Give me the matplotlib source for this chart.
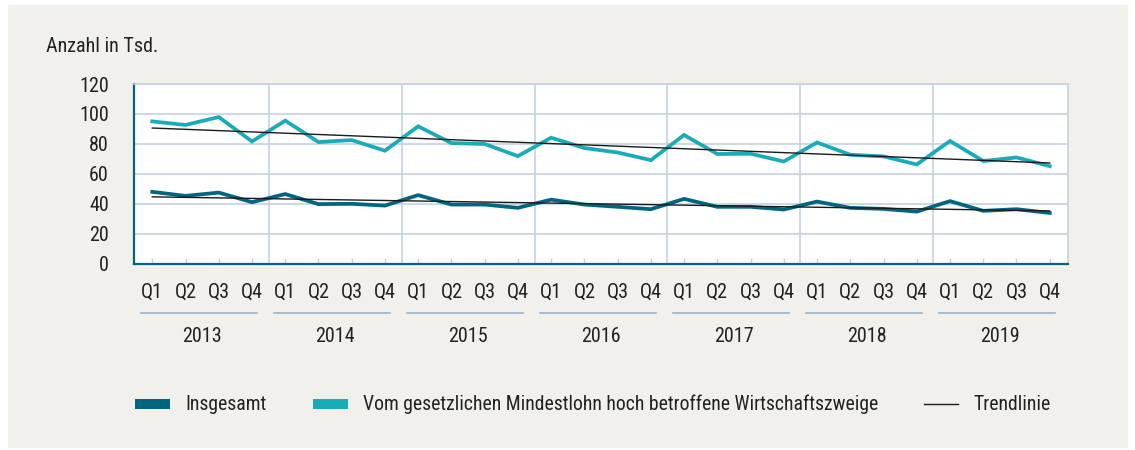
import numpy as np
import matplotlib
matplotlib.use("Agg")
import matplotlib.pyplot as plt
from matplotlib.patches import Rectangle
from matplotlib.lines import Line2D

plt.rcParams['font.family'] = ['Roboto Condensed', 'Liberation Sans Narrow', 'DejaVu Sans']
plt.rcParams['font.stretch'] = 'condensed'

years = ['2013', '2014', '2015', '2016', '2017', '2018', '2019']
quarters = ['Q1', 'Q2', 'Q3', 'Q4']

# Anzahl in Tsd., je Quartal 2013-2019
insgesamt = [47.9, 45.2, 47.4, 41.0,
             46.4, 39.7, 39.9, 38.7,
             45.7, 39.4, 39.4, 37.2,
             42.7, 39.4, 37.9, 36.3,
             43.2, 37.9, 37.9, 36.1,
             41.4, 37.2, 36.5, 34.7,
             41.7, 35.2, 36.3, 33.8]
mindestlohn = [95.0, 92.6, 97.9, 81.6,
               95.5, 81.2, 82.5, 75.4,
               91.7, 80.5, 79.9, 71.8,
               84.1, 77.2, 74.2, 69.1,
               85.9, 73.2, 73.4, 68.2,
               80.9, 72.7, 71.6, 66.2,
               81.9, 68.5, 70.9, 65.1]

dark = '#00667f'
light = '#1aabb9'
grid_col = '#c3d2df'
bg = '#f1f0ea'
txt = '#222222'
fs = 14.5
fs_leg = 14.2

x = np.arange(len(insgesamt))

fig = plt.figure(figsize=(11.35, 4.5), dpi=100)
fig.patch.set_facecolor('white')
fig.patches.append(Rectangle((8 / 1135, 2 / 450), 1120 / 1135, 443 / 450,
                             transform=fig.transFigure, facecolor=bg,
                             edgecolor='none', zorder=-10))

ax = fig.add_axes([134 / 1135, 186.5 / 450, 934 / 1135, 179.5 / 450])
ax.set_facecolor('white')

ax.plot(x, mindestlohn, color=light, lw=2.7, zorder=3, solid_joinstyle='miter')
ax.plot(x, insgesamt, color=dark, lw=2.7, zorder=3, solid_joinstyle='miter')

# lineare Trendlinien
for series in (mindestlohn, insgesamt):
    k, d = np.polyfit(x, series, 1)
    ax.plot(x, k * x + d, color='#1a1a1a', lw=1.0, zorder=4)

ax.set_xlim(-0.55, len(x) - 0.45)
ax.set_ylim(0, 120)
ax.set_yticks(range(0, 121, 20))
ax.yaxis.grid(True, color=grid_col, lw=1.2, zorder=1)
for i in range(1, len(years)):
    ax.axvline(4 * i - 0.5, color=grid_col, lw=1.2, zorder=1)

ax.set_xticks(x)
ax.set_xticklabels([])
ax.tick_params(axis='x', direction='in', length=4, color=grid_col, width=1)
ax.tick_params(axis='y', length=0, pad=18, labelsize=fs, labelcolor=txt)

for side in ('top', 'right'):
    ax.spines[side].set_color(grid_col)
    ax.spines[side].set_linewidth(1.2)
for side in ('left', 'bottom'):
    ax.spines[side].set_color(dark)
    ax.spines[side].set_linewidth(1.6)

# Quartals- und Jahresbeschriftung unter der Achse
h = 179.5
for yi, year in enumerate(years):
    for qi, q in enumerate(quarters):
        ax.text(4 * yi + qi, -28.5 / h, q, ha='center', va='center',
                fontsize=fs, color=txt, transform=ax.get_xaxis_transform())
    ax.add_line(Line2D([4 * yi - 0.33, 4 * yi + 3.15], [-49.5 / h, -49.5 / h],
                       color='#9db3c6', lw=1.2, clip_on=False,
                       transform=ax.get_xaxis_transform()))
    ax.text(4 * yi + 1.5, -73.5 / h, year, ha='center', va='center',
            fontsize=fs, color=txt, transform=ax.get_xaxis_transform())

fig.text(46 / 1135, 1 - 46 / 450, 'Anzahl in Tsd.', ha='left', va='center',
         fontsize=fs, color=txt)

# Legende
leg_y = 1 - 404 / 450
fig.patches.append(Rectangle((135 / 1135, leg_y - 5 / 450), 35 / 1135, 10 / 450,
                             transform=fig.transFigure, facecolor=dark,
                             edgecolor='none'))
fig.text(185 / 1135, leg_y, 'Insgesamt', ha='left', va='center',
         fontsize=fs_leg, color=txt)
fig.patches.append(Rectangle((313 / 1135, leg_y - 5 / 450), 35 / 1135, 10 / 450,
                             transform=fig.transFigure, facecolor=light,
                             edgecolor='none'))
fig.text(363 / 1135, leg_y, 'Vom gesetzlichen Mindestlohn hoch betroffene Wirtschaftszweige',
         ha='left', va='center', fontsize=fs_leg, color=txt)
fig.lines.append(Line2D([924 / 1135, 958 / 1135], [leg_y, leg_y],
                        transform=fig.transFigure, color='#1a1a1a', lw=1.0))
fig.text(973 / 1135, leg_y, 'Trendlinie', ha='left', va='center',
         fontsize=fs_leg, color=txt)

fig.savefig('out.png', dpi=100, facecolor=fig.get_facecolor())
